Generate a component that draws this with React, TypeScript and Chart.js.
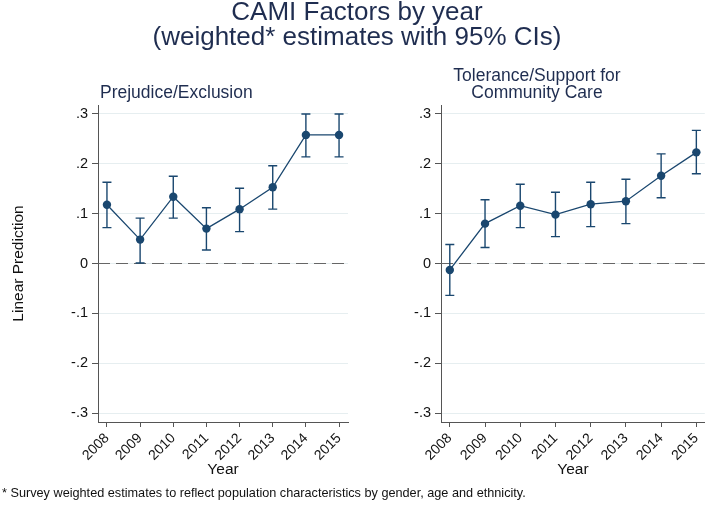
import React, { useEffect, useRef } from "react";
import { Chart, registerables } from "chart.js";

Chart.register(...registerables);

const years = [2008, 2009, 2010, 2011, 2012, 2013, 2014, 2015];

const prejMean = [0.118, 0.048, 0.134, 0.070, 0.109, 0.153, 0.258, 0.258];
const prejLow = [0.072, 0.001, 0.091, 0.027, 0.064, 0.109, 0.214, 0.214];
const prejHigh = [0.163, 0.091, 0.175, 0.112, 0.151, 0.196, 0.300, 0.300];

const tolMean = [-0.013, 0.080, 0.116, 0.098, 0.119, 0.125, 0.176, 0.223];
const tolLow = [-0.064, 0.032, 0.072, 0.054, 0.074, 0.080, 0.132, 0.180];
const tolHigh = [0.038, 0.128, 0.159, 0.143, 0.163, 0.169, 0.220, 0.267];

const yTicks = [-0.3, -0.2, -0.1, 0, 0.1, 0.2, 0.3];
const yTickLabels = ["-.3", "-.2", "-.1", "0", ".1", ".2", ".3"];

const mainTitle = ["CAMI Factors by year", "(weighted* estimates with 95% CIs)"];
const leftSubtitle = "Prejudice/Exclusion";
const rightSubtitle = ["Tolerance/Support for", "Community Care"];
const yAxisTitle = "Linear Prediction";
const xAxisTitle = "Year";
const footnote =
  "* Survey weighted estimates to reflect population characteristics by gender, age and ethnicity.";

const FONT = '"Liberation Sans", Arial, Helvetica, sans-serif';
const NAVY = "#1a476f";
const TITLE_COLOR = "#1f2d50";
const AXIS = "#555555";
const GRID = "#e6eef0";

function makeChart(
  canvas: HTMLCanvasElement,
  mean: number[],
  low: number[],
  high: number[],
  o: { yTitle?: string; yWidth: number; padRight: number; xMin: number; xMax: number }
) {
  const errorBars = {
    id: "errorBars",
    beforeDatasetsDraw(chart: any) {
      const { ctx, chartArea } = chart;
      const xs = chart.scales.x;
      const ys = chart.scales.y;
      ctx.save();
      // zero reference line
      const y0 = ys.getPixelForValue(0);
      ctx.strokeStyle = "#666666";
      ctx.lineWidth = 1.2;
      ctx.setLineDash([12, 6]);
      ctx.beginPath();
      ctx.moveTo(chartArea.left, y0);
      ctx.lineTo(chartArea.right, y0);
      ctx.stroke();
      ctx.setLineDash([]);
      // CI caps
      ctx.strokeStyle = NAVY;
      ctx.lineWidth = 1.4;
      const cap = 4.5;
      years.forEach((yr, i) => {
        const x = xs.getPixelForValue(yr);
        const yl = ys.getPixelForValue(low[i]);
        const yh = ys.getPixelForValue(high[i]);
        ctx.beginPath();
        ctx.moveTo(x, yl);
        ctx.lineTo(x, yh);
        ctx.moveTo(x - cap, yl);
        ctx.lineTo(x + cap, yl);
        ctx.moveTo(x - cap, yh);
        ctx.lineTo(x + cap, yh);
        ctx.stroke();
      });
      ctx.restore();
    },
  };

  return new Chart(canvas, {
    type: "line",
    data: {
      datasets: [
        {
          data: years.map((yr, i) => ({ x: yr, y: mean[i] })),
          borderColor: NAVY,
          backgroundColor: NAVY,
          borderWidth: 1.3,
          pointRadius: 4.2,
          pointBorderWidth: 0,
          pointBackgroundColor: NAVY,
          tension: 0,
        },
      ],
    },
    options: {
      animation: false,
      responsive: false,
      events: [],
      layout: { padding: { top: 105, bottom: 18, left: 0, right: o.padRight } },
      plugins: {
        legend: { display: false },
        tooltip: { enabled: false },
      },
      scales: {
        x: {
          type: "linear",
          min: o.xMin,
          max: o.xMax,
          afterBuildTicks: (s: any) => {
            s.ticks = years.map((v) => ({ value: v }));
          },
          afterFit: (s: any) => {
            s.height = 70;
            s.paddingLeft = 0;
            s.paddingRight = 0;
          },
          ticks: {
            autoSkip: false,
            minRotation: 45,
            maxRotation: 45,
            padding: 3,
            color: "#111",
            font: { family: FONT, size: 14 },
            callback: (v: any) => String(v),
          },
          grid: {
            drawOnChartArea: false,
            drawTicks: true,
            tickLength: 5,
            tickColor: AXIS,
            tickWidth: 1,
          },
          border: { display: true, color: AXIS, width: 1 },
          title: {
            display: true,
            text: xAxisTitle,
            color: "#111",
            font: { family: FONT, size: 15.5 },
            padding: { top: 0, bottom: 12.7 },
          },
        },
        y: {
          type: "linear",
          min: -0.318,
          max: 0.318,
          afterBuildTicks: (s: any) => {
            s.ticks = yTicks.map((v) => ({ value: v }));
          },
          afterFit: (s: any) => {
            s.width = o.yWidth;
            s.paddingTop = 0;
            s.paddingBottom = 0;
          },
          ticks: {
            padding: 4,
            color: "#111",
            font: { family: FONT, size: 14.5 },
            callback: (_v: any, i: number) => yTickLabels[i],
          },
          grid: {
            color: GRID,
            lineWidth: 1,
            drawTicks: true,
            tickLength: 6,
            tickColor: AXIS,
            tickWidth: 1,
          },
          border: { display: true, color: AXIS, width: 1 },
          title: {
            display: !!o.yTitle,
            text: o.yTitle || "",
            color: "#111",
            font: { family: FONT, size: 15.5 },
            padding: { top: 9, bottom: 0 },
          },
        },
      },
    },
    plugins: [errorBars],
  } as any);
}

export default function App() {
  const leftRef = useRef<HTMLCanvasElement>(null);
  const rightRef = useRef<HTMLCanvasElement>(null);

  useEffect(() => {
    const c1 = makeChart(leftRef.current!, prejMean, prejLow, prejHigh, {
      yTitle: yAxisTitle,
      yWidth: 98,
      padRight: 12,
      xMin: 2007.73,
      xMax: 2015.27,
    });
    const c2 = makeChart(rightRef.current!, tolMean, tolLow, tolHigh, {
      yWidth: 81,
      padRight: 2,
      xMin: 2007.75,
      xMax: 2015.24,
    });
    return () => {
      c1.destroy();
      c2.destroy();
    };
  }, []);

  const textBase: React.CSSProperties = {
    position: "absolute",
    fontFamily: FONT,
    whiteSpace: "nowrap",
  };

  return (
    <div
      style={{
        position: "absolute",
        left: 0,
        top: 0,
        width: 709,
        height: 510,
        background: "#fff",
        overflow: "hidden",
      }}
    >
      <canvas
        ref={leftRef}
        width={360}
        height={510}
        style={{ position: "absolute", left: 0, top: 0, width: 360, height: 510 }}
      />
      <canvas
        ref={rightRef}
        width={349}
        height={510}
        style={{ position: "absolute", left: 360, top: 0, width: 349, height: 510 }}
      />
      <div
        style={{
          ...textBase,
          left: 2.5,
          top: -1.5,
          width: 709,
          textAlign: "center",
          fontSize: 26,
          lineHeight: "25px",
          color: TITLE_COLOR,
        }}
      >
        {mainTitle.map((t, i) => (
          <div key={i}>{t}</div>
        ))}
      </div>
      <div
        style={{
          ...textBase,
          left: 100,
          top: 81.6,
          fontSize: 17.5,
          lineHeight: "20px",
          color: TITLE_COLOR,
        }}
      >
        {leftSubtitle}
      </div>
      <div
        style={{
          ...textBase,
          left: 437,
          top: 67.1,
          width: 200,
          textAlign: "center",
          fontSize: 17.5,
          lineHeight: "17px",
          color: TITLE_COLOR,
        }}
      >
        {rightSubtitle.map((t, i) => (
          <div key={i}>{t}</div>
        ))}
      </div>
      <div
        style={{
          ...textBase,
          left: 2,
          top: 485.5,
          fontSize: 12.7,
          lineHeight: "15px",
          color: "#111",
        }}
      >
        {footnote}
      </div>
    </div>
  );
}
